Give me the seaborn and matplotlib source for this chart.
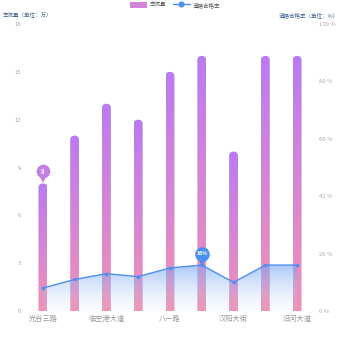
import numpy as np
import pandas as pd
import matplotlib
matplotlib.use("Agg")
import matplotlib.pyplot as plt
import seaborn as sns
from matplotlib.patches import FancyBboxPatch, Patch
from matplotlib.lines import Line2D
from matplotlib.colors import LinearSegmentedColormap
import matplotlib.transforms as mtransforms

# ---- data ----
positions = list(range(9))
tick_labels = ["光谷三路", "", "临空港大道", "", "八一路", "", "汉阳大街", "", "沿河大道"]
flow = [8, 11, 13, 12, 15, 16, 10, 16, 16]          # 车流量 (万)
rate = [8, 11, 13, 12, 15, 16, 10, 16, 16]          # 合格率 (%)
left_ticks = [0, 3, 6, 9, 12, 15, 18]
right_ticks = [0, 20, 40, 60, 80, 100]

sns.set_style("white")
plt.rcParams['font.family'] = ['Noto Sans CJK SC', 'DejaVu Sans']

df = pd.DataFrame({"pos": positions, "flow": flow, "rate": rate})

W = H = 350
DPI = 100
fig = plt.figure(figsize=(W / DPI, H / DPI), dpi=DPI)
L, R, B, T = 27, 313, 311, 24
ax = fig.add_axes([L / W, 1 - B / H, (R - L) / W, (B - T) / H])

sns.barplot(data=df, x="pos", y="flow", ax=ax, width=0.28, color="#c080e0")
ax.set_xlim(-0.5, 8.5)
ax.set_ylim(0, 18)

bar_cmap = LinearSegmentedColormap.from_list("bar", ["#f092b6", "#ba7bf2"])
grad = np.linspace(0, 1, 256).reshape(-1, 1)
xu_px = (R - L) / 9.0
yu_px = (B - T) / 18.0
asp = (1 / yu_px) / (1 / xu_px)
for p in list(ax.patches):
    x0, w, h = p.get_x(), p.get_width(), p.get_height()
    p.set_visible(False)
    im = ax.imshow(grad, extent=[x0, x0 + w, 0, h], aspect='auto', origin='lower',
                   cmap=bar_cmap, zorder=2)
    clip = FancyBboxPatch((x0, -2), w, h + 2,
                          boxstyle=f"round,pad=0,rounding_size={w / 2}",
                          mutation_aspect=asp, transform=ax.transData,
                          facecolor='none', edgecolor='none')
    ax.add_patch(clip)
    im.set_clip_path(clip)
ax.set_xlim(-0.5, 8.5)
ax.set_ylim(0, 18)

ax.set_yticks(left_ticks)
ax.set_yticklabels([str(v) for v in left_ticks])
ax.set_xticks(positions)
ax.set_xticklabels(tick_labels)
ax.tick_params(axis='y', length=0, pad=4, labelsize=4.3, labelcolor='#aaaaaa')
ax.tick_params(axis='x', length=0, pad=3, labelsize=5.2, labelcolor='#999999')
ax.set_xlabel("")
ax.set_ylabel("")
for s in ax.spines.values():
    s.set_visible(False)
ax.grid(False)

# ---- line on twin axis ----
ax2 = ax.twinx()
line_color = "#4d8ff0"
sns.lineplot(data=df, x="pos", y="rate", ax=ax2, color=line_color, linewidth=1.0,
             marker='o', markersize=2.6, markeredgewidth=0, zorder=5)
ax2.set_xlim(-0.5, 8.5)
ax2.set_ylim(0, 100)
poly = ax2.fill_between(df["pos"], df["rate"], 0, facecolor='none', edgecolor='none')
area_cmap = LinearSegmentedColormap.from_list(
    "area", [(0.75, 0.85, 0.98, 0.05), (0.45, 0.65, 0.96, 0.6)])
im2 = ax2.imshow(grad, extent=[0, 8, 0, max(rate)], aspect='auto', origin='lower',
                 cmap=area_cmap, zorder=3)
im2.set_clip_path(poly.get_paths()[0], transform=ax2.transData)
ax2.set_xlim(-0.5, 8.5)
ax2.set_ylim(0, 100)
ax2.set_yticks(right_ticks)
ax2.set_yticklabels([f"{v} %" for v in right_ticks])
ax2.tick_params(axis='y', length=0, pad=4, labelsize=4.3, labelcolor='#aaaaaa')
ax2.set_xlabel("")
ax2.set_ylabel("")
for s in ax2.spines.values():
    s.set_visible(False)
ax2.grid(False)


def pin(a, x, y, text, color, r_px, above_px, fs):
    tr_c = mtransforms.offset_copy(a.transData, fig=fig, x=0, y=above_px, units='dots')
    tr_t = mtransforms.offset_copy(a.transData, fig=fig, x=0, y=above_px - r_px * 0.95, units='dots')
    ms = 2 * r_px * 72 / DPI
    a.plot([x], [y], marker='v', ms=ms * 0.75, color=color, mew=0, transform=tr_t,
           zorder=8, clip_on=False)
    a.plot([x], [y], marker='o', ms=ms, color=color, mew=0, transform=tr_c,
           zorder=9, clip_on=False)
    a.text(x, y, text, transform=tr_c, ha='center', va='center', color='white',
           fontsize=fs, fontweight='bold', zorder=10, clip_on=False)


pin(ax, 0, flow[0], str(flow[0]), "#c27fe6", 6.8, 12, 4.4)
pin(ax2, 5, rate[5], f"{rate[5]}%", "#4d8ff0", 7.3, 11.5, 3.8)

# ---- titles ----
title_color = "#3e5f92"
fig.text(3 / W, 1 - 15 / H, "车流量（单位：万）", fontsize=4.0, color=title_color,
         ha='left', va='center')
fig.text(339 / W, 1 - 15 / H, "道路合格率（单位：%）", fontsize=4.0, color=title_color,
         ha='right', va='center')

handles = [Patch(facecolor="#d385dc", edgecolor='none'),
           Line2D([0], [0], color=line_color, marker='o', markersize=3.4, lw=1)]
fig.legend(handles, ["车流量", "道路合格率"], loc='center', bbox_to_anchor=(0.5, 1 - 5 / H),
           ncol=2, frameon=False, fontsize=4.0, handlelength=3.0, handleheight=1.3,
           columnspacing=1.2, handletextpad=0.5, labelcolor='#555555')

fig.savefig("out.png", dpi=DPI)
